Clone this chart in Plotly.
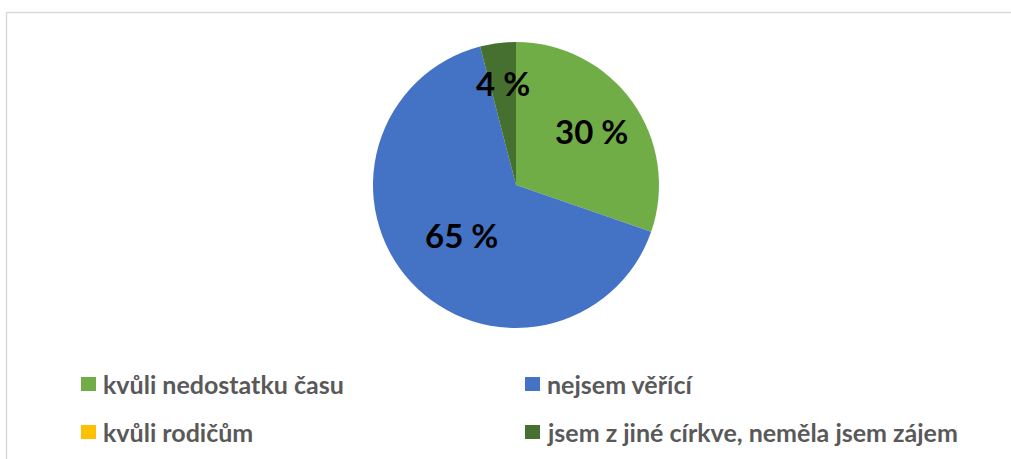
import math
import plotly.graph_objects as go

# ---- data ----
categories = ["kvůli nedostatku času", "nejsem věřící", "kvůli rodičům",
              "jsem z jiné církve, neměla jsem zájem"]
values = [30, 65, 0, 4]
colors = ["#70AD47", "#4472C4", "#FFC000", "#46702F"]
label_radius = [0.65, 0.52, 0.6, 0.72]   # radial position of data labels (fraction of radius)

W, H = 1011, 459
CX, CY, R = 516, 185, 143   # pie centre / radius in pixels


def px(x):
    return x / W


def py(y):
    return 1 - y / H


fig = go.Figure()
fig.add_trace(go.Pie(
    labels=categories,
    values=values,
    sort=False,
    direction="clockwise",
    rotation=0,
    marker=dict(colors=colors, line=dict(width=0)),
    textinfo="none",
    hoverinfo="label+value",
    showlegend=False,
    domain=dict(x=[px(CX - R), px(CX + R)], y=[py(CY + R), py(CY - R)]),
))

annotations = []
shapes = []

# data labels computed from slice angles
total = sum(values)
cum = 0
for v, rf in zip(values, label_radius):
    if v > 0:
        mid = (cum + v / 2) / total * 2 * math.pi
        lx = CX + rf * R * math.sin(mid)
        ly = CY - rf * R * math.cos(mid)
        annotations.append(dict(
            x=px(lx), y=py(ly), xref="paper", yref="paper",
            text=f"<b>{v} %</b>", showarrow=False,
            font=dict(family="Lato", size=33, color="#000000"),
            xanchor="center", yanchor="middle"))
    cum += v

# legend (2 columns)
leg_x = [81, 525]
leg_y = [384, 432]
for i, (name, col) in enumerate(zip(categories, colors)):
    cx = leg_x[i % 2]
    cy = leg_y[i // 2]
    shapes.append(dict(type="rect", xref="paper", yref="paper",
                       x0=px(cx), x1=px(cx + 15), y0=py(cy + 7), y1=py(cy - 7),
                       fillcolor=col, line=dict(width=0)))
    annotations.append(dict(
        x=px(cx + 20), y=py(cy), xref="paper", yref="paper",
        text=f"<b>{name}</b>", showarrow=False,
        font=dict(family="Lato", size=25, color="#595959"),
        xanchor="left", yanchor="middle"))

# chart border (top + left visible)
shapes.append(dict(type="rect", xref="paper", yref="paper",
                   x0=px(6.5), x1=px(W + 20), y0=py(H + 20), y1=py(12.5),
                   line=dict(color="#D9D9D9", width=1.5), fillcolor="rgba(0,0,0,0)",
                   layer="below"))

fig.update_layout(
    width=W, height=H,
    margin=dict(l=0, r=0, t=0, b=0),
    paper_bgcolor="white",
    plot_bgcolor="white",
    annotations=annotations,
    shapes=shapes,
)

fig.write_html("out.html",
               config={"displayModeBar": False},
               post_script="document.body.style.margin='0px';document.body.style.overflow='hidden';")
